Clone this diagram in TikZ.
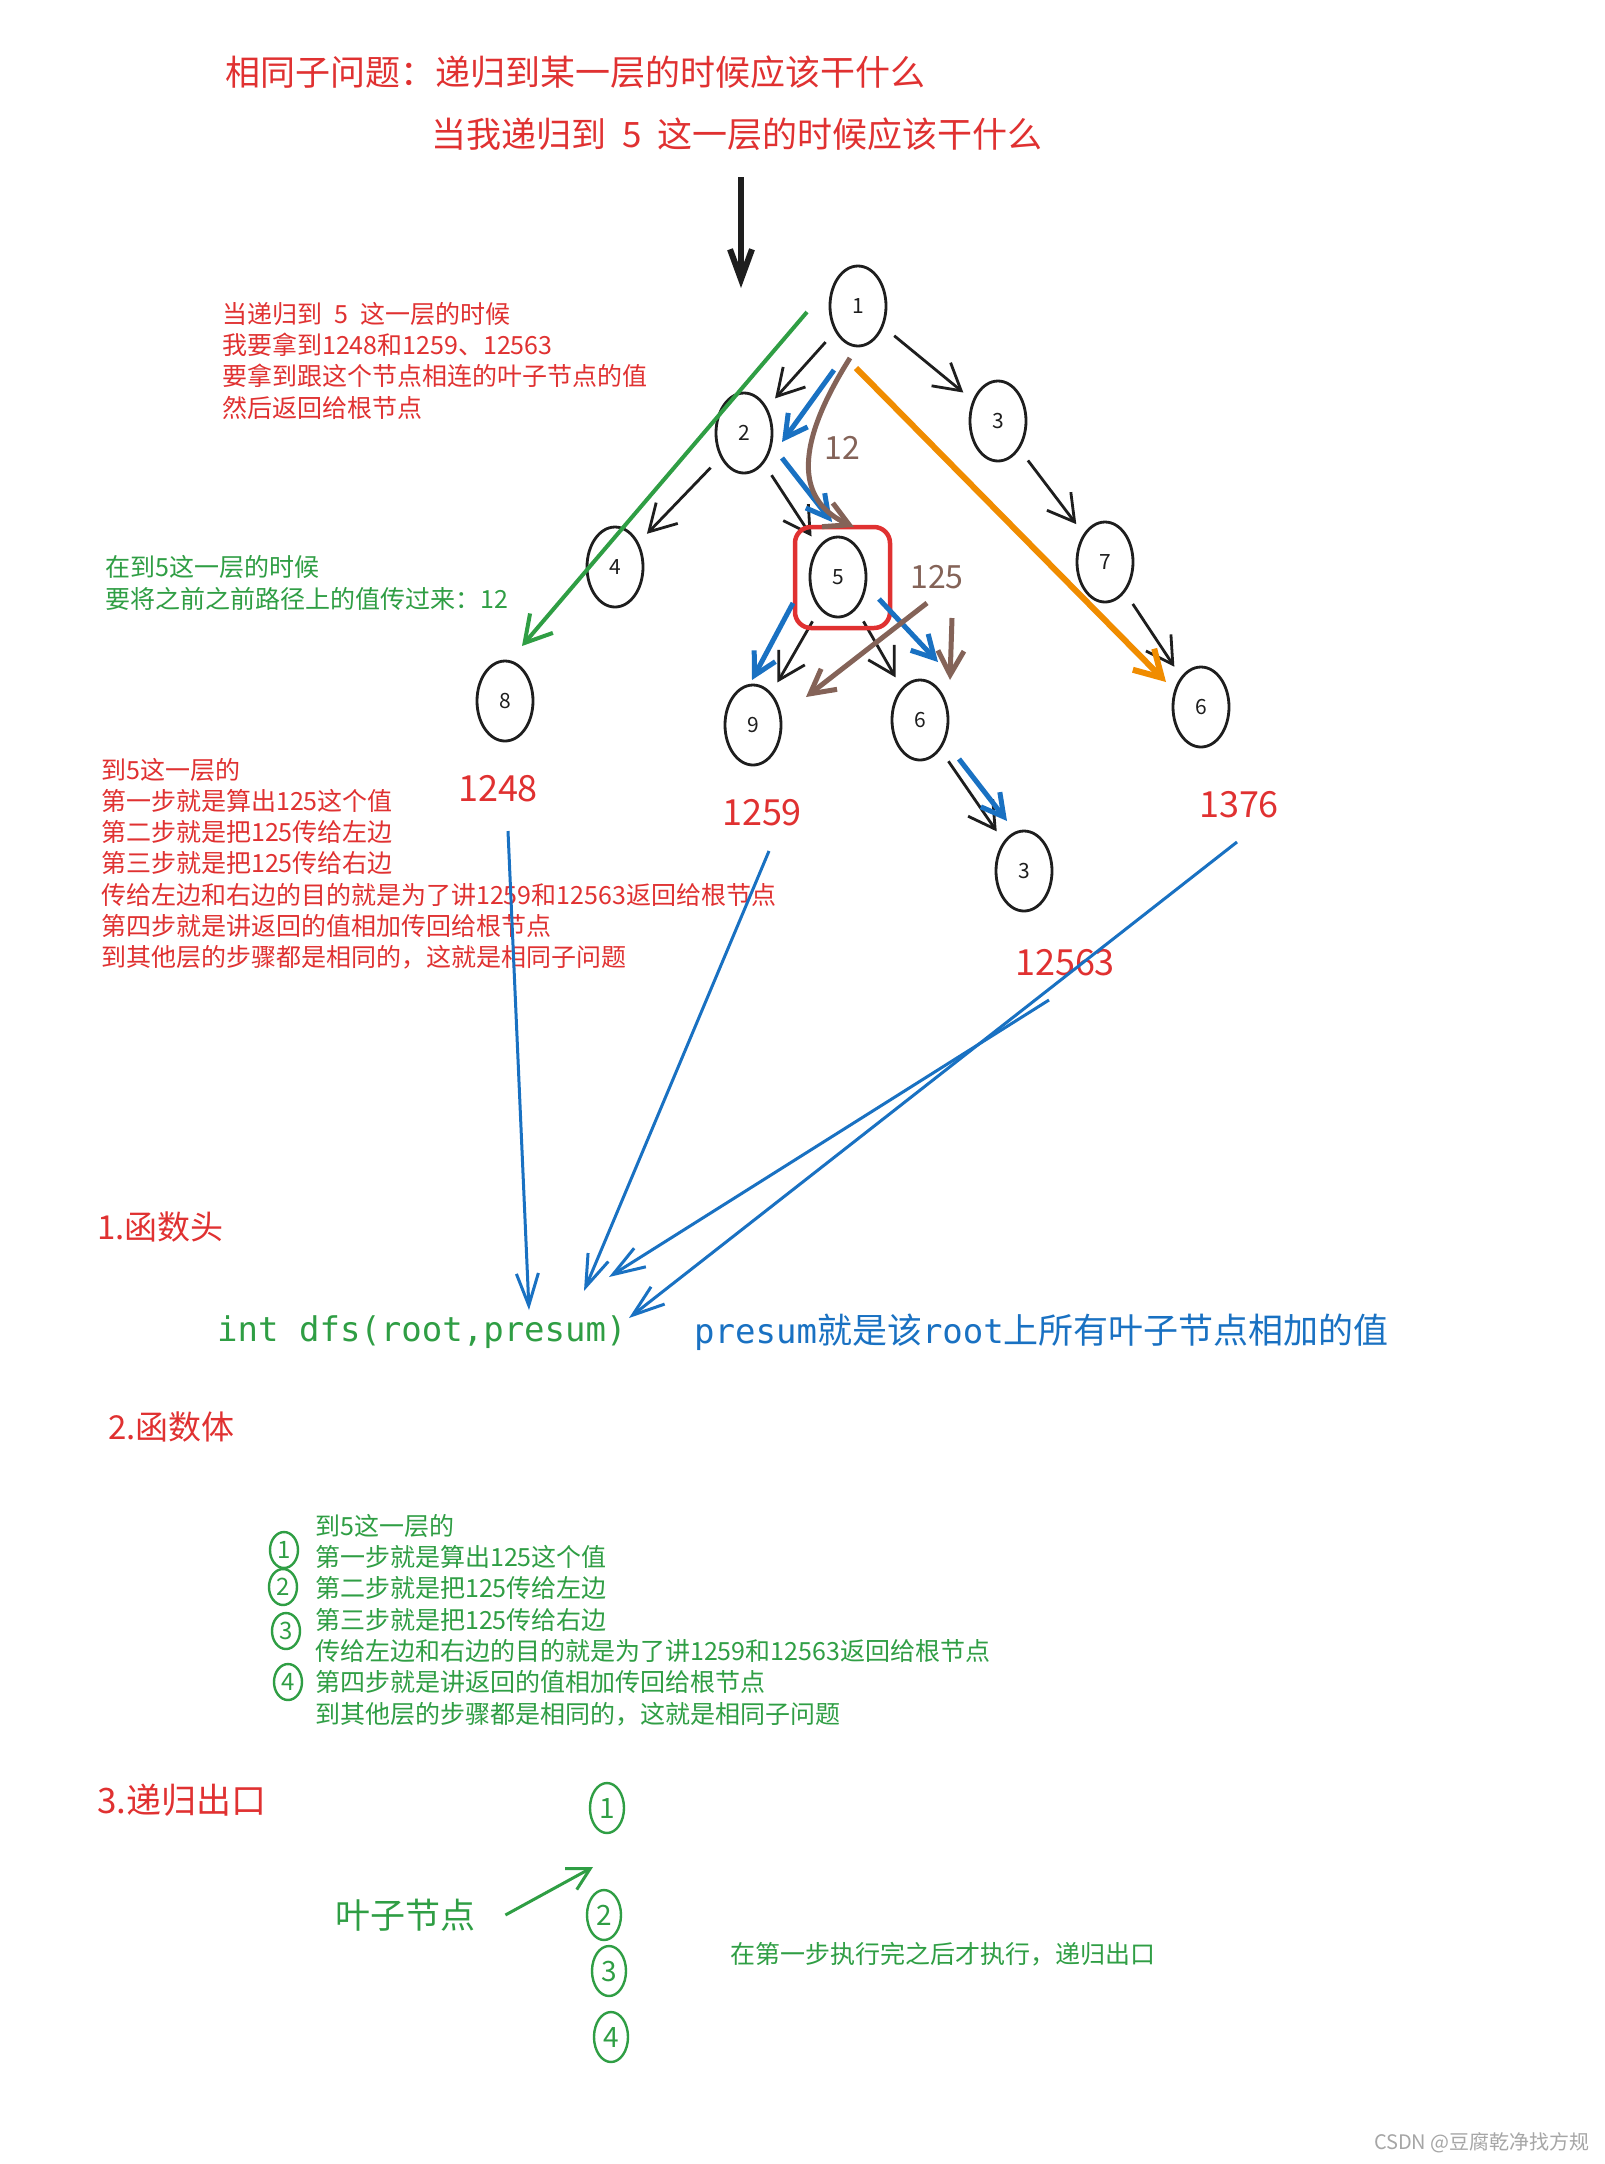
\documentclass[tikz,border=0pt]{standalone}
\usepackage{fontspec}
\usetikzlibrary{shapes.geometric,arrows.meta}
\newfontfamily\cjk{Noto Sans CJK SC}
\newfontfamily\mono{DejaVu Sans Mono}
\definecolor{exred}{HTML}{E03131}
\definecolor{exgreen}{HTML}{2F9E44}
\definecolor{exblue}{HTML}{1971C2}
\definecolor{exorange}{HTML}{F08C00}
\definecolor{exbrown}{HTML}{846358}
\definecolor{exblack}{HTML}{1E1E1E}
\tikzset{
  tnode/.style={ellipse, draw=exblack, line width=2.8pt, minimum width=56pt, minimum height=80pt, inner sep=0pt, font=\cjk\fontsize{21}{22}\selectfont, text=exblack},
  treeedge/.style={draw=exblack, line width=2.8pt, shorten <=14pt, shorten >=12pt, -{Straight Barb[length=26pt,width=30pt]}},
  bluea/.style={draw=exblue, line width=5pt, -{Straight Barb[length=22pt,width=24pt]}},
  browna/.style={draw=exbrown, line width=5pt, -{Straight Barb[length=24pt,width=26pt]}},
  longblue/.style={draw=exblue, line width=3pt, -{Straight Barb[length=32pt,width=22pt]}},
  txt/.style={inner sep=0pt, anchor=west},
  blocktxt/.style={inner sep=0pt, anchor=north west, align=left},
  numlbl/.style={inner sep=0pt, text=exred, font=\cjk\fontsize{36}{40}\selectfont},
  circnum/.style={ellipse, draw=exgreen, line width=2.4pt, inner sep=0pt, text=exgreen}
}
\begin{document}
\begin{tikzpicture}[x=1pt,y=-1pt]
\fill[white] (0,0) rectangle (1605,2164);
\useasboundingbox (0,0) rectangle (1605,2164);

% titles
\node[txt, text=exred, font=\cjk\fontsize{35}{40}\selectfont] (t1) at (225,72) {相同子问题：递归到某一层的时候应该干什么};
\node[txt, text=exred, font=\cjk\fontsize{35}{40}\selectfont] (t2) at (431,134) {当我递归到\hspace{16pt}5\hspace{16pt}这一层的时候应该干什么};

% big black arrow
\coordinate (ba1) at (741,177);
\coordinate (ba2) at (741,288);
\draw[draw=exblack, line width=6pt, -{Straight Barb[length=30pt,width=22pt]}] (ba1) -- (ba2);

% tree nodes
\node[tnode] (n1) at (858,306) {1};
\node[tnode] (n2) at (744,433) {2};
\node[tnode] (n3) at (998,421) {3};
\node[tnode] (n4) at (615,567) {4};
\node[tnode] (n5) at (838,577) {5};
\node[tnode] (n7) at (1105,562) {7};
\node[tnode] (n8) at (505,701) {8};
\node[tnode] (n9) at (753,725) {9};
\node[tnode] (n6a) at (920,720) {6};
\node[tnode] (n6b) at (1201,707) {6};
\node[tnode] (n3b) at (1024,871) {3};

% black tree edges
\draw[treeedge] (n1) -- (n2);
\draw[treeedge] (n1) -- (n3);
\draw[treeedge] (n2) -- (n4);
\draw[treeedge] (n2) -- (n5);
\draw[treeedge] (n3) -- (n7);
\draw[treeedge] (n5) -- (n9);
\draw[treeedge] (n5) -- (n6a);
\draw[treeedge] (n7) -- (n6b);
\draw[treeedge] (n6a) -- (n3b);

% red box around 5
\draw[exred, line width=4.5pt, rounded corners=16pt] (795,527) rectangle (890,628);

% blue path arrows
\coordinate (b1s) at (834,370); \coordinate (b1e) at (782,442);
\coordinate (b2s) at (782,458); \coordinate (b2e) at (832,522);
\coordinate (b3s) at (793,603); \coordinate (b3e) at (752,680);
\coordinate (b4s) at (879,599); \coordinate (b4e) at (938,662);
\coordinate (b5s) at (959,759); \coordinate (b5e) at (1007,821);
\draw[bluea] (b1s) -- (b1e);
\draw[bluea] (b2s) -- (b2e);
\draw[bluea] (b3s) -- (b3e);
\draw[bluea] (b4s) -- (b4e);
\draw[bluea] (b5s) -- (b5e);

% brown arrows
\coordinate (r1s) at (850,358); \coordinate (r1e) at (854,527);
\draw[browna] (r1s) .. controls (795,445) and (795,500) .. (r1e);
\node[inner sep=0pt, text=exbrown, font=\cjk\fontsize{32}{36}\selectfont] (l12) at (842,448) {12};
\node[inner sep=0pt, text=exbrown, font=\cjk\fontsize{32}{36}\selectfont] (l125) at (937,577) {125};
\coordinate (r2s) at (927,603); \coordinate (r2e) at (806,697);
\coordinate (r3s) at (952,618); \coordinate (r3e) at (950,680);
\draw[browna] (r2s) -- (r2e);
\draw[browna] (r3s) -- (r3e);

% orange arrow
\coordinate (o1s) at (856,368); \coordinate (o1e) at (1166,682);
\draw[draw=exorange, line width=6pt, -{Straight Barb[length=26pt,width=30pt]}] (o1s) -- (o1e);

% green arrow
\coordinate (g1s) at (807,312); \coordinate (g1e) at (522,646);
\draw[draw=exgreen, line width=4pt, -{Straight Barb[length=26pt,width=30pt]}] (g1s) -- (g1e);

% text blocks
\node[blocktxt, text=exred, font=\cjk\fontsize{25}{31.3}\selectfont] (rb1) at (222,302) {当递归到\hspace{12pt}5\hspace{12pt}这一层的时候\\我要拿到1248和1259、12563\\要拿到跟这个节点相连的叶子节点的值\\然后返回给根节点};
\node[blocktxt, text=exgreen, font=\cjk\fontsize{25}{32}\selectfont] (gb1) at (105,555) {在到5这一层的时候\\要将之前之前路径上的值传过来：12};
\node[blocktxt, text=exred, font=\cjk\fontsize{25}{31.2}\selectfont] (rb2) at (101,758) {到5这一层的\\第一步就是算出125这个值\\第二步就是把125传给左边\\第三步就是把125传给右边\\传给左边和右边的目的就是为了讲1259和12563返回给根节点\\第四步就是讲返回的值相加传回给根节点\\到其他层的步骤都是相同的，这就是相同子问题};

% number labels
\node[numlbl] (v1248) at (498,789) {1248};
\node[numlbl] (v1259) at (762,813) {1259};
\node[numlbl] (v1376) at (1239,805) {1376};
\node[numlbl] (v12563) at (1065,963) {12563};

% long blue arrows
\coordinate (s1) at (508,831); \coordinate (e1) at (529,1310);
\coordinate (s2) at (769,851); \coordinate (e2) at (584,1291);
\coordinate (s3) at (1049,1000); \coordinate (e3) at (609,1277);
\coordinate (s4) at (1237,842); \coordinate (e4) at (629,1318);
\draw[longblue] (s1) -- (e1);
\draw[longblue] (s2) -- (e2);
\draw[longblue] (s3) -- (e3);
\draw[longblue] (s4) -- (e4);

% section 1
\node[txt, text=exred, font=\cjk\fontsize{33}{38}\selectfont] (h1) at (97,1227) {1.函数头};
\node[txt, text=exgreen, font=\mono\fontsize{34}{38}\selectfont] (dfs) at (217,1332) {int dfs(root,presum)};
\node[txt, text=exblue, font=\cjk\fontsize{35}{38}\selectfont] (desc) at (694,1332) {{\mono\fontsize{34}{38}\selectfont presum}就是该{\mono\fontsize{34}{38}\selectfont root}上所有叶子节点相加的值};

% section 2
\node[txt, text=exred, font=\cjk\fontsize{33}{38}\selectfont] (h2) at (108,1427) {2.函数体};
\node[blocktxt, text=exgreen, font=\cjk\fontsize{25}{31.3}\selectfont] (gb2) at (315,1514) {到5这一层的\\第一步就是算出125这个值\\第二步就是把125传给左边\\第三步就是把125传给右边\\传给左边和右边的目的就是为了讲1259和12563返回给根节点\\第四步就是讲返回的值相加传回给根节点\\到其他层的步骤都是相同的，这就是相同子问题};
\node[circnum, minimum width=28pt, minimum height=36pt, font=\cjk\fontsize{24}{26}\selectfont] (c1) at (284,1550) {1};
\node[circnum, minimum width=28pt, minimum height=36pt, font=\cjk\fontsize{24}{26}\selectfont] (c2) at (283,1587) {2};
\node[circnum, minimum width=28pt, minimum height=36pt, font=\cjk\fontsize{24}{26}\selectfont] (c3) at (286,1631) {3};
\node[circnum, minimum width=28pt, minimum height=36pt, font=\cjk\fontsize{24}{26}\selectfont] (c4) at (288,1682) {4};

% section 3
\node[txt, text=exred, font=\cjk\fontsize{35}{40}\selectfont] (h3) at (97,1800) {3.递归出口};
\node[circnum, minimum width=34pt, minimum height=50pt, font=\cjk\fontsize{28}{30}\selectfont] (d1) at (607,1808) {1};
\node[circnum, minimum width=34pt, minimum height=50pt, font=\cjk\fontsize{28}{30}\selectfont] (d2) at (604,1915) {2};
\node[circnum, minimum width=34pt, minimum height=50pt, font=\cjk\fontsize{28}{30}\selectfont] (d3) at (609,1971) {3};
\node[circnum, minimum width=34pt, minimum height=50pt, font=\cjk\fontsize{28}{30}\selectfont] (d4) at (611,2037) {4};
\node[txt, text=exgreen, font=\cjk\fontsize{35}{40}\selectfont] (leaf) at (335,1915) {叶子节点};
\coordinate (la) at (593,1867);
\draw[draw=exgreen, line width=3pt, -{Straight Barb[length=22pt,width=24pt]}] ([xshift=30pt]leaf.east) -- (la);
\node[txt, text=exgreen, font=\cjk\fontsize{25}{30}\selectfont] (note) at (730,1954) {在第一步执行完之后才执行，递归出口};

% watermark
\node[inner sep=0pt, anchor=east, text=black!35, font=\cjk\fontsize{20}{24}\selectfont] (wm) at (1590,2143) {CSDN @豆腐乾净找方规};
\end{tikzpicture}
\end{document}
